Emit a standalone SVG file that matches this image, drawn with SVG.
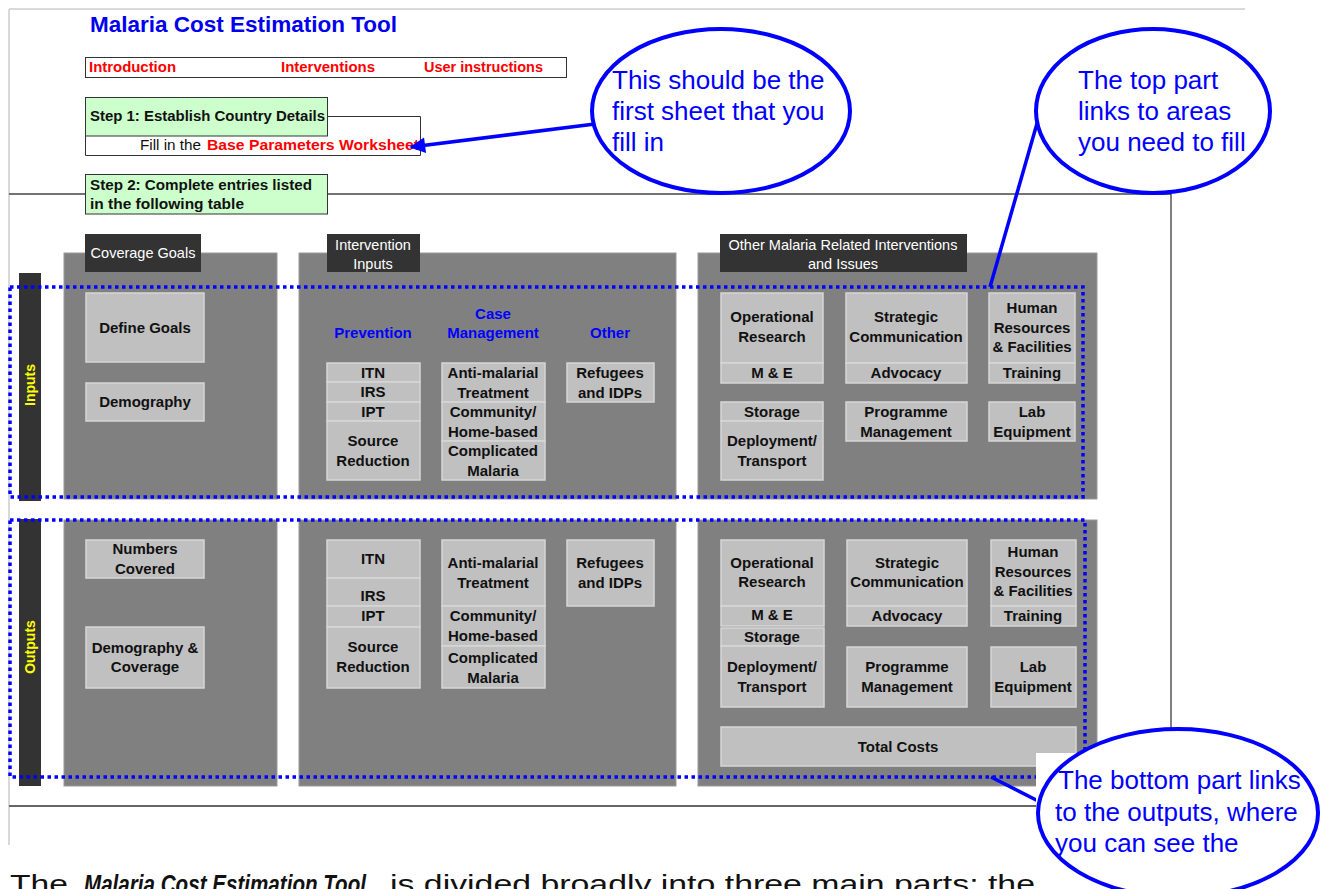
<svg xmlns="http://www.w3.org/2000/svg" width="1328" height="889" viewBox="0 0 1328 889">
<style>
text{font-family:"Liberation Sans",Arial,sans-serif}
.panel{fill:#808080;stroke:#999;stroke-width:1}
.lbl{fill:#333}
.bar{fill:#333}
.cell{fill:#c0c0c0;stroke:#d6d6d6;stroke-width:1.5}
.t{font-weight:bold;font-size:15px;fill:#111;text-anchor:middle}
.w{font-size:14.5px;fill:#fff;text-anchor:middle}
.hd{font-weight:bold;font-size:15px;fill:#0000ff;text-anchor:middle}
.y{font-weight:bold;font-size:14px;fill:#ffff00;text-anchor:middle}
.dot{fill:none;stroke:#0000ff;stroke-width:3.5;stroke-dasharray:3.5 3.5}
.call{fill:#fff;stroke:#0000ff;stroke-width:4}
.ct{font-size:26px;fill:#0000ff}
.nav{font-weight:bold;font-size:14px;fill:#ff0000}
.stp{font-weight:bold;font-size:14.5px;fill:#111}
.con{stroke:#0000ff;stroke-width:3.5;fill:none}
.ft{font-size:26px;fill:#111}
</style>
<defs>
<marker id="ah" viewBox="0 0 10 10" refX="9" refY="5" markerWidth="5" markerHeight="4.5" orient="auto" markerUnits="strokeWidth">
<path d="M0,0 L10,5 L0,10 z" fill="#0000ff"/>
</marker>
</defs>
<rect width="1328" height="889" fill="#fff"/>
<g id="page">
<line x1="9" y1="9" x2="1245" y2="9" stroke="#ccc" stroke-width="1.5"/>
<line x1="9" y1="9" x2="9" y2="845" stroke="#ccc" stroke-width="1.5"/>
<line x1="9" y1="194" x2="1171" y2="194" stroke="#444" stroke-width="1.5"/>
<line x1="1171" y1="194" x2="1171" y2="753" stroke="#000" stroke-width="1"/>
<line x1="9" y1="806" x2="1040" y2="806" stroke="#666" stroke-width="2"/>
</g>
<g id="title">
<text x="90" y="32" font-size="22" font-weight="bold" fill="#0000ee" textLength="307" lengthAdjust="spacingAndGlyphs">Malaria Cost Estimation Tool</text>
</g>
<g id="nav">
<rect x="85.5" y="57.5" width="481" height="20" fill="#fff" stroke="#333" stroke-width="1"/>
<text class="nav" x="89" y="72" textLength="87" lengthAdjust="spacingAndGlyphs">Introduction</text>
<text class="nav" x="281" y="72" textLength="94" lengthAdjust="spacingAndGlyphs">Interventions</text>
<text class="nav" x="424" y="72" textLength="119" lengthAdjust="spacingAndGlyphs">User instructions</text>
</g>
<g id="step1">
<polyline points="327,116.5 420.5,116.5 420.5,155.5 85.5,155.5 85.5,136" fill="#fff" stroke="#333" stroke-width="1"/>
<rect x="85.5" y="97.5" width="242" height="38.5" fill="#ccffcc" stroke="#333" stroke-width="1"/>
<text class="stp" x="90" y="121" textLength="235" lengthAdjust="spacingAndGlyphs">Step 1: Establish Country Details</text>
<text x="140" y="150" font-size="14" fill="#111" textLength="61" lengthAdjust="spacingAndGlyphs">Fill in the</text>
<text x="207" y="150" font-size="14" font-weight="bold" fill="#ff0000" textLength="212" lengthAdjust="spacingAndGlyphs">Base Parameters Worksheet</text>
</g>
<g id="step2">
<rect x="85.5" y="174.5" width="242" height="39.5" fill="#ccffcc" stroke="#333" stroke-width="1"/>
<text class="stp" x="90" y="190" textLength="222" lengthAdjust="spacingAndGlyphs">Step 2: Complete entries listed</text>
<text class="stp" x="90" y="209" textLength="154" lengthAdjust="spacingAndGlyphs">in the following table</text>
</g>
<g id="panel-coverage">
<rect class="panel" x="64" y="253" width="213" height="246"/>
<rect class="panel" x="64" y="520" width="213" height="266"/>
<rect class="lbl" x="85" y="234" width="116" height="38"/>
<text class="w" x="143" y="258">Coverage Goals</text>
</g>
<g id="panel-intervention">
<rect class="panel" x="299" y="253" width="377" height="246"/>
<rect class="panel" x="299" y="520" width="377" height="266"/>
<rect class="lbl" x="327" y="234" width="93" height="38"/>
<text class="w" x="373" y="250">Intervention</text>
<text class="w" x="373" y="269">Inputs</text>
</g>
<g id="panel-other">
<rect class="panel" x="698" y="253" width="399" height="246"/>
<rect class="panel" x="698" y="520" width="399" height="266"/>
<rect class="lbl" x="720" y="234" width="247" height="38"/>
<text class="w" x="843" y="250">Other Malaria Related Interventions</text>
<text class="w" x="843" y="269">and Issues</text>
</g>
<g id="bar-inputs">
<rect class="bar" x="19" y="273" width="22" height="228"/>
<text class="y" transform="translate(35,385) rotate(-90)">Inputs</text>
</g>
<g id="bar-outputs">
<rect class="bar" x="19" y="519" width="22" height="267"/>
<text class="y" transform="translate(35,647) rotate(-90)">Outputs</text>
</g>
<g id="headings">
<text class="hd" x="373" y="338">Prevention</text>
<text class="hd" x="493" y="319">Case</text>
<text class="hd" x="493" y="338">Management</text>
<text class="hd" x="610" y="338">Other</text>
</g>
<g id="in-define-goals"><rect class="cell" x="86" y="293" width="118" height="69"/><text class="t" x="145" y="333">Define Goals</text></g>
<g id="in-demography"><rect class="cell" x="86" y="383" width="118" height="38"/><text class="t" x="145" y="407">Demography</text></g>
<g id="in-itn"><rect class="cell" x="327" y="363" width="93" height="19"/><text class="t" x="373" y="378">ITN</text></g>
<g id="in-irs"><rect class="cell" x="327" y="382" width="93" height="20"/><text class="t" x="373" y="397">IRS</text></g>
<g id="in-ipt"><rect class="cell" x="327" y="402" width="93" height="19"/><text class="t" x="373" y="417">IPT</text></g>
<g id="in-source"><rect class="cell" x="327" y="421" width="93" height="59"/><text class="t" x="373" y="446">Source</text><text class="t" x="373" y="466">Reduction</text></g>
<g id="in-antimalarial"><rect class="cell" x="442" y="363" width="103" height="39"/><text class="t" x="493" y="378">Anti-malarial</text><text class="t" x="493" y="398">Treatment</text></g>
<g id="in-community"><rect class="cell" x="442" y="402" width="103" height="39"/><text class="t" x="493" y="417">Community/</text><text class="t" x="493" y="437">Home-based</text></g>
<g id="in-complicated"><rect class="cell" x="442" y="441" width="103" height="39"/><text class="t" x="493" y="456">Complicated</text><text class="t" x="493" y="476">Malaria</text></g>
<g id="in-refugees"><rect class="cell" x="567" y="363" width="87" height="39"/><text class="t" x="610" y="378">Refugees</text><text class="t" x="610" y="398">and IDPs</text></g>
<g id="in-opres"><rect class="cell" x="721" y="293" width="102" height="70"/><text class="t" x="772" y="322">Operational</text><text class="t" x="772" y="342">Research</text></g>
<g id="in-me"><rect class="cell" x="721" y="363" width="102" height="20"/><text class="t" x="772" y="378">M &amp; E</text></g>
<g id="in-stratcom"><rect class="cell" x="846" y="293" width="121" height="70"/><text class="t" x="906" y="322">Strategic</text><text class="t" x="906" y="342">Communication</text></g>
<g id="in-advocacy"><rect class="cell" x="846" y="363" width="121" height="20"/><text class="t" x="906" y="378">Advocacy</text></g>
<g id="in-hr"><rect class="cell" x="989" y="293" width="86" height="70"/><text class="t" x="1032" y="313">Human</text><text class="t" x="1032" y="333">Resources</text><text class="t" x="1032" y="352">&amp; Facilities</text></g>
<g id="in-training"><rect class="cell" x="989" y="363" width="86" height="20"/><text class="t" x="1032" y="378">Training</text></g>
<g id="in-storage"><rect class="cell" x="721" y="402" width="102" height="19"/><text class="t" x="772" y="417">Storage</text></g>
<g id="in-deploy"><rect class="cell" x="721" y="421" width="102" height="59"/><text class="t" x="772" y="446">Deployment/</text><text class="t" x="772" y="466">Transport</text></g>
<g id="in-progman"><rect class="cell" x="846" y="402" width="121" height="39"/><text class="t" x="906" y="417">Programme</text><text class="t" x="906" y="437">Management</text></g>
<g id="in-lab"><rect class="cell" x="989" y="402" width="86" height="39"/><text class="t" x="1032" y="417">Lab</text><text class="t" x="1032" y="437">Equipment</text></g>
<g id="out-numbers"><rect class="cell" x="86" y="540" width="118" height="38"/><text class="t" x="145" y="554">Numbers</text><text class="t" x="145" y="574">Covered</text></g>
<g id="out-demography"><rect class="cell" x="86" y="627" width="118" height="61"/><text class="t" x="145" y="653">Demography &amp;</text><text class="t" x="145" y="672">Coverage</text></g>
<g id="out-itn"><rect class="cell" x="327" y="540" width="93" height="38"/><text class="t" x="373" y="564">ITN</text></g>
<g id="out-irs"><rect class="cell" x="327" y="578" width="93" height="28"/><text class="t" x="373" y="601">IRS</text></g>
<g id="out-ipt"><rect class="cell" x="327" y="606" width="93" height="21"/><text class="t" x="373" y="621">IPT</text></g>
<g id="out-source"><rect class="cell" x="327" y="627" width="93" height="61"/><text class="t" x="373" y="652">Source</text><text class="t" x="373" y="672">Reduction</text></g>
<g id="out-antimalarial"><rect class="cell" x="442" y="540" width="103" height="66"/><text class="t" x="493" y="568">Anti-malarial</text><text class="t" x="493" y="588">Treatment</text></g>
<g id="out-community"><rect class="cell" x="442" y="606" width="103" height="40"/><text class="t" x="493" y="621">Community/</text><text class="t" x="493" y="641">Home-based</text></g>
<g id="out-complicated"><rect class="cell" x="442" y="646" width="103" height="42"/><text class="t" x="493" y="663">Complicated</text><text class="t" x="493" y="683">Malaria</text></g>
<g id="out-refugees"><rect class="cell" x="567" y="540" width="87" height="66"/><text class="t" x="610" y="568">Refugees</text><text class="t" x="610" y="588">and IDPs</text></g>
<g id="out-opres"><rect class="cell" x="721" y="540" width="103" height="66"/><text class="t" x="772" y="568">Operational</text><text class="t" x="772" y="587">Research</text></g>
<g id="out-me"><rect class="cell" x="721" y="606" width="103" height="20"/><text class="t" x="772" y="620">M &amp; E</text></g>
<g id="out-storage"><rect class="cell" x="721" y="628" width="103" height="18"/><text class="t" x="772" y="642">Storage</text></g>
<g id="out-deploy"><rect class="cell" x="721" y="646" width="103" height="61"/><text class="t" x="772" y="672">Deployment/</text><text class="t" x="772" y="692">Transport</text></g>
<g id="out-stratcom"><rect class="cell" x="847" y="540" width="120" height="66"/><text class="t" x="907" y="568">Strategic</text><text class="t" x="907" y="587">Communication</text></g>
<g id="out-advocacy"><rect class="cell" x="847" y="606" width="120" height="20"/><text class="t" x="907" y="621">Advocacy</text></g>
<g id="out-hr"><rect class="cell" x="991" y="540" width="85" height="66"/><text class="t" x="1033" y="557">Human</text><text class="t" x="1033" y="577">Resources</text><text class="t" x="1033" y="596">&amp; Facilities</text></g>
<g id="out-training"><rect class="cell" x="991" y="606" width="85" height="20"/><text class="t" x="1033" y="621">Training</text></g>
<g id="out-progman"><rect class="cell" x="847" y="647" width="120" height="60"/><text class="t" x="907" y="672">Programme</text><text class="t" x="907" y="692">Management</text></g>
<g id="out-lab"><rect class="cell" x="991" y="647" width="85" height="60"/><text class="t" x="1033" y="672">Lab</text><text class="t" x="1033" y="692">Equipment</text></g>
<g id="out-total"><rect class="cell" x="721" y="727" width="355" height="39"/><text class="t" x="898" y="752">Total Costs</text></g>
<g id="group-inputs"><rect class="dot" x="10" y="287" width="1073" height="210"/></g>
<g id="group-outputs"><rect class="dot" x="10" y="520" width="1075" height="257"/></g>
<g id="footer-text">
<text class="ft" x="10" y="893" textLength="58" lengthAdjust="spacingAndGlyphs">The</text>
<text class="ft" x="84" y="893" font-weight="bold" font-style="italic" textLength="282" lengthAdjust="spacingAndGlyphs">Malaria Cost Estimation Tool</text>
<text class="ft" x="390" y="893" textLength="645" lengthAdjust="spacingAndGlyphs">is divided broadly into three main parts: the</text>
</g>
<g id="connectors">
<line class="con" x1="595" y1="124" x2="411" y2="147" marker-end="url(#ah)"/>
<line class="con" x1="1038" y1="120" x2="990" y2="287"/>
<line class="con" x1="991" y1="777" x2="1050" y2="807"/>
</g>
<rect x="1036" y="753" width="292" height="136" fill="#fff"/>
<g id="callout-first-sheet">
<ellipse class="call" cx="721" cy="111" rx="129" ry="82"/>
<text class="ct" x="612" y="89">This should be the</text>
<text class="ct" x="612" y="120">first sheet that you</text>
<text class="ct" x="612" y="151">fill in</text>
</g>
<g id="callout-top-part">
<ellipse class="call" cx="1153" cy="111" rx="117" ry="82"/>
<text class="ct" x="1078" y="89">The top part</text>
<text class="ct" x="1078" y="120">links to areas</text>
<text class="ct" x="1078" y="151">you need to fill</text>
</g>
<g id="callout-bottom-part">
<ellipse class="call" cx="1178" cy="813" rx="140" ry="84"/>
<text class="ct" x="1058" y="789">The bottom part links</text>
<text class="ct" x="1055" y="821">to the outputs, where</text>
<text class="ct" x="1055" y="852">you can see the</text>
</g>
</svg>
